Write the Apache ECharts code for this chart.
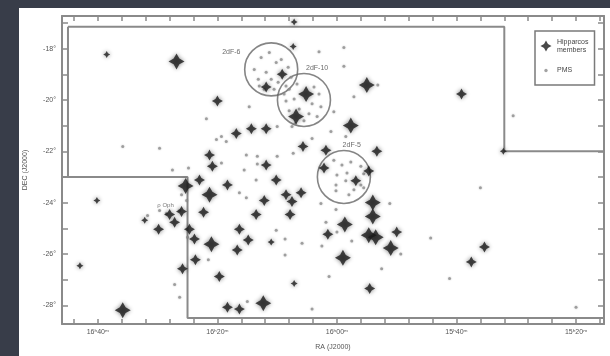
<!DOCTYPE html>
<html>
<head>
<meta charset="utf-8">
<script src="https://cdn.jsdelivr.net/npm/echarts@6/dist/echarts.min.js"></script>
<style>
  html, body { margin: 0; padding: 0; }
  body { width: 610px; height: 356px; background: #383d49; position: relative; overflow: hidden; }
  #paper { position: absolute; left: 19px; top: 8px; width: 591px; height: 348px; background: #fff; }
  #chart { position: absolute; left: 0; top: 0; width: 610px; height: 356px; }
</style>
</head>
<body>
<div id="paper"></div>
<div id="chart"></div>
<script>
// RA in degrees (16h40m = 250), DEC in degrees
const raTicks = [230, 235, 240, 245, 250]
const raTickLabels = ['15ʰ20ᵐ', '15ʰ40ᵐ', '16ʰ00ᵐ', '16ʰ20ᵐ', '16ʰ40ᵐ']
const decTicks = [-28, -26, -24, -22, -20, -18]

// Hipparcos members, split by how big the mark is drawn (brightness)
const hipBright = [
  [246.71, -18.50], [238.75, -19.42], [241.29, -19.77], [241.71, -20.65], [239.42, -21.00],
  [246.33, -23.35], [245.33, -23.69], [238.50, -24.00], [238.50, -24.54], [239.67, -24.85],
  [238.67, -25.27], [238.38, -25.35], [237.75, -25.77], [239.75, -26.15], [243.08, -27.92],
  [248.96, -28.19], [245.25, -25.62]
]
const hipMid = [
  [242.29, -19.00], [242.96, -19.50], [245.00, -20.04], [234.79, -19.77], [243.58, -21.12],
  [242.96, -21.12], [244.21, -21.31], [241.42, -21.81], [240.46, -21.96], [238.33, -22.00],
  [245.33, -22.15], [242.96, -22.54], [245.21, -22.58], [245.75, -23.12], [244.58, -23.31],
  [243.04, -23.92], [242.54, -23.12], [240.54, -22.65], [238.67, -22.77], [239.21, -23.15],
  [241.50, -23.62], [242.13, -23.69], [241.88, -23.96], [245.58, -24.38], [243.38, -24.46],
  [241.96, -24.46], [240.38, -25.23], [237.50, -25.15], [238.63, -27.35], [244.58, -28.08],
  [244.08, -28.15], [247.46, -25.04], [246.79, -24.77], [246.17, -25.04], [245.96, -25.42],
  [244.08, -25.04], [243.71, -25.46], [244.17, -25.85], [245.92, -26.23], [246.46, -26.58],
  [244.92, -26.88], [246.50, -24.35], [247.00, -24.46], [233.83, -25.73], [234.38, -26.31]
]
const hipFaint = [
  [249.63, -18.23], [241.79, -16.96], [241.83, -17.92], [233.04, -22.00], [242.75, -25.54],
  [241.79, -27.15], [250.04, -23.92], [250.75, -26.46], [248.04, -24.69]
]

// PMS stars
const pms = [
  [243.67, -20.27], [240.75, -18.12], [239.71, -17.96], [239.71, -18.69], [238.29, -19.42],
  [239.29, -19.88], [240.13, -20.46], [232.63, -20.62], [245.46, -20.73], [248.96, -21.81],
  [247.42, -21.88], [245.04, -21.54], [244.83, -21.42], [244.63, -21.62], [243.79, -22.15],
  [243.33, -22.19], [244.83, -22.46], [246.21, -22.65], [246.88, -22.73], [243.88, -22.73],
  [246.50, -23.69], [246.29, -23.92], [244.08, -23.62], [243.79, -23.81], [243.38, -23.12],
  [247.92, -24.50], [247.42, -24.31], [246.58, -24.31], [247.13, -24.42], [246.25, -25.35],
  [245.38, -26.23], [246.79, -27.19], [246.58, -27.69], [243.75, -27.85], [242.50, -21.04],
  [241.88, -21.04], [240.25, -21.23], [239.63, -21.42], [241.04, -21.50], [241.83, -22.08],
  [242.50, -22.19], [238.88, -23.42], [237.79, -24.04], [240.67, -24.04], [240.04, -24.27],
  [240.46, -24.77], [240.00, -25.15], [242.54, -25.08], [242.17, -25.42], [241.46, -25.58],
  [239.38, -25.50], [240.63, -25.69], [237.33, -26.00], [242.17, -26.04], [238.13, -26.58],
  [240.33, -26.88], [241.04, -28.15], [236.08, -25.38], [235.29, -26.96], [234.00, -23.42],
  [230.00, -28.08], [243.33, -22.50],
  // inside 2dF-6
  [243.17, -18.35], [242.83, -18.15], [242.54, -18.54], [242.33, -18.42], [243.46, -18.81],
  [242.96, -18.92], [242.04, -18.73], [243.29, -19.19], [242.75, -19.19], [242.46, -19.31],
  [241.92, -19.12], [243.04, -19.58], [242.63, -19.58], [242.13, -19.46], [243.25, -19.46],
  // inside 2dF-10
  [242.00, -19.58], [241.67, -19.38], [240.96, -19.50], [240.75, -19.77], [242.13, -20.04],
  [241.79, -19.96], [241.04, -20.15], [240.67, -20.27], [242.00, -20.42], [241.58, -20.35],
  [241.17, -20.54], [240.83, -20.65], [242.21, -19.77], [241.38, -20.81], [241.75, -20.92],
  // inside 2dF-5
  [240.13, -22.35], [239.79, -22.54], [239.42, -22.42], [239.00, -22.58], [240.00, -22.92],
  [239.58, -22.85], [238.88, -22.88], [240.04, -23.31], [239.63, -23.15], [239.29, -23.50],
  [240.04, -23.54], [239.50, -23.69], [239.00, -23.31]
]

// 2dF field centres and names
const fieldNames = ['2dF-6', '2dF-10', '2dF-5']
const fieldCentres = [[242.75, -18.81], [241.38, -20.00], [239.71, -23.00]]
const fieldLabelPos = [[244.42, -18.12], [240.83, -18.77], [239.38, -21.77]]

// region labels
const regionNames = ['ρ Oph']
const regionPos = [[247.17, -24.12]]

// survey area outline
const surveyEdge = [
  [251.25, -17.15], [233.00, -17.15], [233.00, -22.00], [228.80, -22.00], [228.80, -28.50],
  [246.25, -28.50], [246.25, -23.00], [251.50, -23.00], [251.25, -23.00], [251.25, -17.15]
]

const raMin = 228.83, raMax = 251.5
const decMin = -28.73, decMax = -16.73

const starPath = 'path://M0,-10 L3.6,-3.6 L10,0 L3.6,3.6 L0,10 L-3.6,3.6 L-10,0 L-3.6,-3.6 Z'
const starStyle = { color: '#1c1c1c', shadowBlur: 4, shadowColor: 'rgba(0,0,0,0.6)' }
const pmsIcon = 'image://data:image/svg+xml;utf8,' + encodeURIComponent(
  "<svg xmlns='http://www.w3.org/2000/svg' width='12' height='11'><circle cx='6' cy='5.5' r='1.7' fill='#8c8c8c'/></svg>")

const range = (a, b) => { const r = []; for (let i = a; i <= b; i++) r.push(i); return r }

const chart = echarts.init(document.getElementById('chart'), null, { renderer: 'canvas' })

const axisLine = { lineStyle: { color: '#8a8a8a', width: 2 } }
const tickStyle = { lineStyle: { color: '#8a8a8a', width: 1.5 } }
const font = { fontFamily: 'Liberation Sans, Arial, sans-serif', fontSize: 7, color: '#555' }

chart.setOption({
  backgroundColor: 'transparent',
  animation: false,
  grid: { left: 62, right: 6, top: 16, bottom: 28 },
  legend: {
    data: [
      { name: 'Hipparcos members', icon: starPath },
      { name: 'PMS', icon: pmsIcon }
    ],
    orient: 'vertical',
    left: 535,
    top: 31,
    width: 60,
    padding: [7, 6, 9, 5],
    itemGap: 11,
    itemWidth: 12,
    itemHeight: 11,
    borderColor: '#7a7a7a',
    borderWidth: 1.5,
    backgroundColor: '#fff',
    formatter: name => name === 'Hipparcos members' ? 'Hipparcos\nmembers' : name,
    textStyle: { ...font, fontSize: 7, lineHeight: 8, color: '#444' }
  },
  xAxis: [
    {
      type: 'value', min: raMin, max: raMax, inverse: true,
      name: 'RA (J2000)', nameLocation: 'middle', nameGap: 20,
      nameTextStyle: { ...font },
      splitLine: { show: false },
      axisLine,
      axisTick: { inside: true, length: 5, customValues: range(229, 251), ...tickStyle },
      axisLabel: {
        ...font, margin: 5,
        customValues: raTicks,
        formatter: v => raTickLabels[raTicks.indexOf(Math.round(v))] || ''
      }
    },
    {
      type: 'value', min: raMin, max: raMax, inverse: true, position: 'top',
      splitLine: { show: false },
      axisLine,
      axisTick: { inside: true, length: 5, customValues: range(229, 251), ...tickStyle },
      axisLabel: { show: false }
    }
  ],
  yAxis: [
    {
      type: 'value', min: decMin, max: decMax,
      name: 'DEC (J2000)', nameLocation: 'middle', nameGap: 33,
      nameTextStyle: { ...font },
      splitLine: { show: false },
      axisLine,
      axisTick: { inside: true, length: 6, customValues: range(-28, -17), ...tickStyle },
      axisLabel: { ...font, margin: 6, customValues: decTicks, formatter: v => Math.round(v) + '°' }
    },
    {
      type: 'value', min: decMin, max: decMax, position: 'right',
      splitLine: { show: false },
      axisLine,
      axisTick: { inside: true, length: 6, customValues: range(-28, -17), ...tickStyle },
      axisLabel: { show: false }
    }
  ],
  series: [
    {
      name: 'survey', type: 'line', data: surveyEdge, symbol: 'none', silent: true,
      lineStyle: { color: '#8a8a8a', width: 2 }, z: 1
    },
    {
      name: 'fields', type: 'scatter', data: fieldCentres, symbol: 'circle', symbolSize: 53, silent: true,
      itemStyle: { color: 'rgba(0,0,0,0)', borderColor: '#666', borderWidth: 1.6 }, z: 2
    },
    {
      name: 'fieldLabels', type: 'scatter', symbolSize: 0, silent: true,
      data: fieldLabelPos.map((p, i) => ({ value: p, name: fieldNames[i] })),
      label: { show: true, position: 'inside', formatter: '{b}', ...font, fontSize: 7, color: '#444' }
    },
    {
      name: 'regionLabels', type: 'scatter', symbolSize: 0, silent: true,
      data: regionPos.map((p, i) => ({ value: p, name: regionNames[i] })),
      label: { show: true, position: 'inside', formatter: '{b}', ...font, fontSize: 6, color: '#555' }
    },
    {
      name: 'PMS', type: 'scatter', data: pms, symbol: 'circle', symbolSize: 3,
      itemStyle: { color: '#8e8e8e', shadowBlur: 2, shadowColor: 'rgba(0,0,0,0.3)' }, z: 3
    },
    {
      name: 'Hipparcos members', type: 'scatter', data: hipFaint, symbol: starPath, symbolSize: 7,
      itemStyle: starStyle, z: 4
    },
    {
      name: 'Hipparcos members', type: 'scatter', data: hipMid, symbol: starPath, symbolSize: 11,
      itemStyle: starStyle, z: 4
    },
    {
      name: 'Hipparcos members', type: 'scatter', data: hipBright, symbol: starPath, symbolSize: 16,
      itemStyle: starStyle, z: 4
    }
  ]
})
</script>
</body>
</html>
